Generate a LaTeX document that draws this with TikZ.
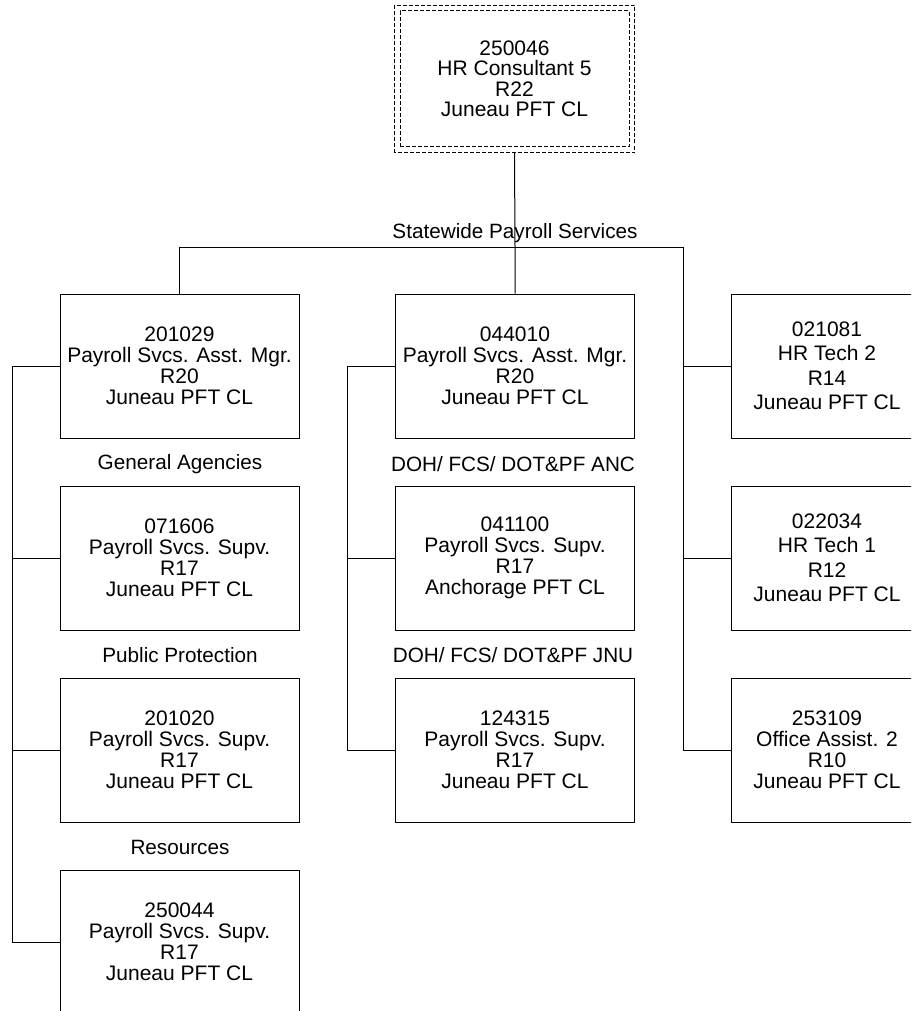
\documentclass[tikz,border=0pt]{standalone}
\usepackage{fontspec}
\setmainfont{Liberation Sans}
\usetikzlibrary{calc}
\tikzset{
  posbox/.style={draw=black, line width=1pt, rectangle, minimum width=239pt, minimum height=144pt, inner sep=0pt, align=center, font=\fontsize{21}{21}\selectfont},
  rightbox/.style={posbox, minimum width=192pt},
  rightwide/.style={rightbox, font=\fontsize{21}{24.5}\selectfont},
  topbox/.style={draw=black, line width=1pt, dash pattern=on 4pt off 2pt, rectangle, minimum width=229pt, minimum height=136pt, inner sep=0pt, align=center, font=\fontsize{21}{20.5}\selectfont},
  grplabel/.style={inner sep=0pt, font=\fontsize{20.7}{21}\selectfont},
  wire/.style={line width=1pt, draw=black}
}
\begin{document}
\begin{tikzpicture}[x=1pt, y=-1pt]
\useasboundingbox (0,0) rectangle (911,1011);
\clip (0,0) rectangle (911,1011);
% top position
\node[topbox] (top) at (514.5,79) {250046\\HR Consultant 5\\R22\\Juneau PFT CL};
\draw[line width=1pt, dash pattern=on 4pt off 2pt] ($(top.north west)+(-5,-5)$) rectangle ($(top.south east)+(5,5)$);
\coordinate (topbot) at ($(top.south)+(0,5)$);
% left column
\node[posbox] (a1) at (179.5,366) {201029\\Payroll Svcs. Asst. Mgr.\\R20\\Juneau PFT CL};
\node[posbox] (a2) at (179.5,558) {071606\\Payroll Svcs. Supv.\\R17\\Juneau PFT CL};
\node[posbox] (a3) at (179.5,750) {201020\\Payroll Svcs. Supv.\\R17\\Juneau PFT CL};
\node[posbox] (a4) at (179.5,942) {250044\\Payroll Svcs. Supv.\\R17\\Juneau PFT CL};
% middle column
\node[posbox] (b1) at (515,366) {044010\\Payroll Svcs. Asst. Mgr.\\R20\\Juneau PFT CL};
\node[posbox] (b2) at (515,558) {041100\\Payroll Svcs. Supv.\\R17\\Anchorage PFT CL};
\node[posbox] (b3) at (515,750) {124315\\Payroll Svcs. Supv.\\R17\\Juneau PFT CL};
% right column
\node[rightwide] (c1) at (827,366) {021081\\HR Tech 2\\R14\\Juneau PFT CL};
\node[rightwide] (c2) at (827,558) {022034\\HR Tech 1\\R12\\Juneau PFT CL};
\node[rightbox] (c3) at (827,750) {253109\\Office Assist. 2\\R10\\Juneau PFT CL};
% group labels
\node[grplabel] (lsps) at (515,233) {Statewide Payroll Services};
\node[grplabel] (lga) at (180,464) {General Agencies};
\node[grplabel] (lpp) at (180,655) {Public Protection};
\node[grplabel] (lres) at (180,847) {Resources};
\node[grplabel] (lanc) at (513,464) {DOH/ FCS/ DOT\&PF ANC};
\node[grplabel] (ljnu) at (513,655) {DOH/ FCS/ DOT\&PF JNU};
% bus
\coordinate (busL) at (179.5,247);
\coordinate (busM) at (515,247);
\coordinate (busR) at (683,247);
\coordinate (spL) at (12,0);
\coordinate (spM) at (347,0);
\draw[wire] (topbot) -- (busM) -- (b1.north);
\draw[wire] (busL) -- (busR);
\draw[wire] (busL) -- (a1.north);
% left spine
\draw[wire] (a1.west) -- (a1.west -| spL) -- (a4.west -| spL) -- (a4.west);
\draw[wire] (a2.west -| spL) -- (a2.west);
\draw[wire] (a3.west -| spL) -- (a3.west);
% middle spine
\draw[wire] (b1.west) -- (b1.west -| spM) -- (b3.west -| spM) -- (b3.west);
\draw[wire] (b2.west -| spM) -- (b2.west);
% right spine
\draw[wire] (busR) |- (c3.west);
\draw[wire] (c1.west -| busR) -- (c1.west);
\draw[wire] (c2.west -| busR) -- (c2.west);
\end{tikzpicture}
\end{document}
